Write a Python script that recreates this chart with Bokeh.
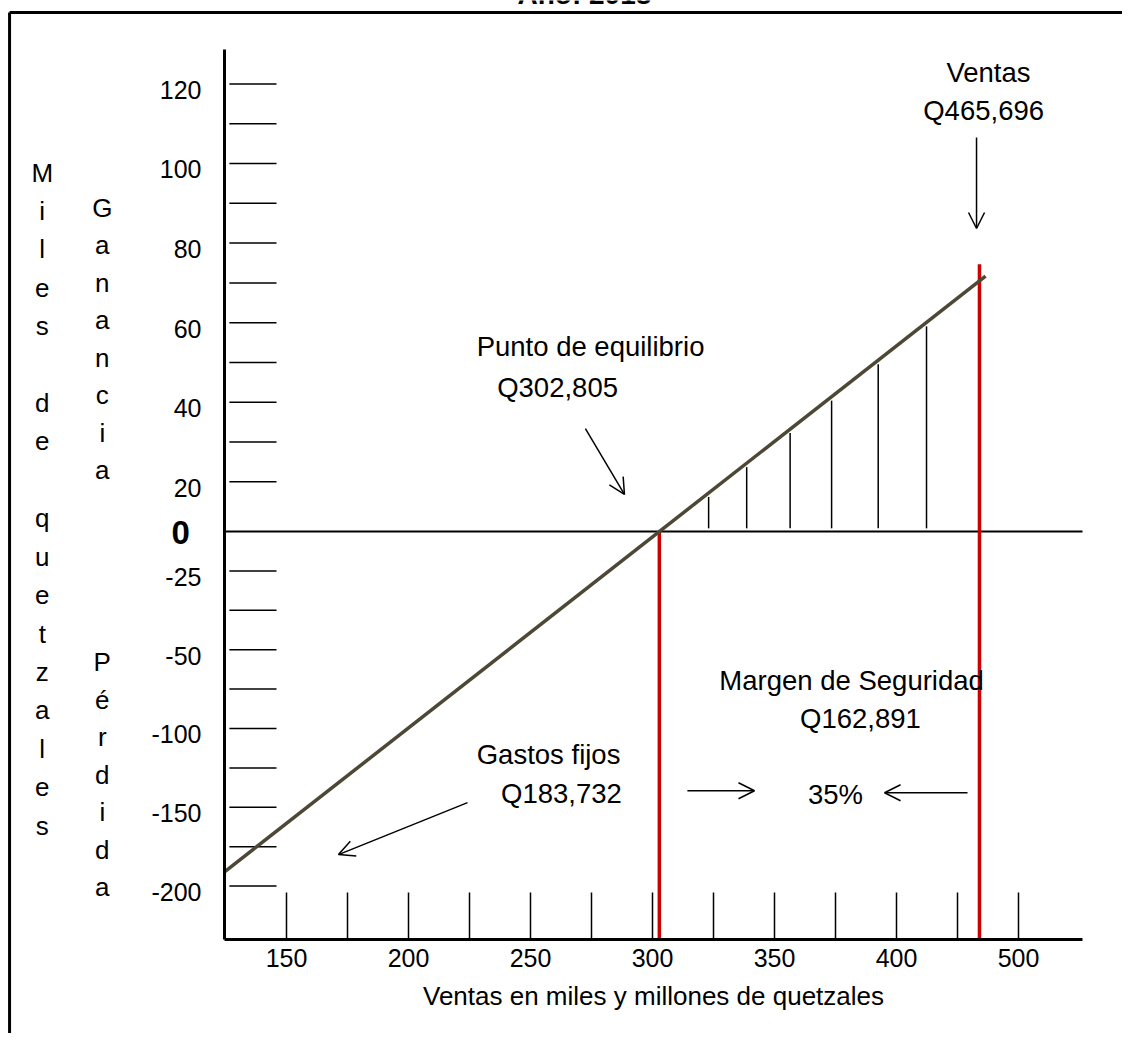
import numpy as np
from bokeh.plotting import figure
from bokeh.models import FixedTicker, Label, Arrow, OpenHead, Range1d
from bokeh.core.properties import value
from bokeh.embed import file_html
from bokeh.resources import INLINE

FONT = "'Liberation Sans', Arial, sans-serif"

# ---------------- data (drawn scale of the diagram) ----------------
x_tick_values = [150, 175, 200, 225, 250, 275, 300, 325, 350, 375, 400, 425, 450]
x_tick_labels = ["150", "", "200", "", "250", "", "300", "", "350", "", "400", "", "500"]

y_up_labels = ["20", "", "40", "", "60", "", "80", "", "100", "", "120"]
y_down_labels = ["-25", "", "-50", "", "-100", "", "-150", "", "-200"]

break_even = 302.805          # Punto de equilibrio
sales_mark = 434.0            # position of the Ventas line on the drawn axis
red_line_x = [break_even, sales_mark]
red_line_top = [0.0, 6.78]

profit_line_x = [124.6, 436.5]
profit_line_y = [-8.64, 6.48]

hatch_x = [323.0, 338.6, 356.4, 373.4, 392.5, 412.3]

# ---------------- layout constants ----------------
AX0, AX1 = 124.59, 476.23      # extent of the drawn x axis
AY0, AY1 = -10.355, 12.234     # extent of the drawn y axis
VX0, VX1 = 32.787, 492.62      # whole canvas in data units
VY0, VY1 = -12.741, 13.477
up_slots = [0.25 + 1.01 * k for k in range(1, len(y_up_labels) + 1)]
down_slots = [-1.0 * k for k in range(1, len(y_down_labels) + 1)]
label_drop = 0.15

p = figure(width=1122, height=1033, x_range=Range1d(VX0, VX1), y_range=Range1d(VY0, VY1),
           toolbar_location=None, output_backend="svg",
           min_border_left=0, min_border_right=0, min_border_top=0, min_border_bottom=0)
try:
    p.title = None
except Exception:
    p.title.visible = False
p.outline_line_color = None
p.xgrid.grid_line_color = None
p.ygrid.grid_line_color = None
p.background_fill_color = "white"
p.border_fill_color = "white"

# x axis
xa = p.xaxis[0]
xa.fixed_location = AY0
xa.bounds = (AX0, AX1)
xa.ticker = FixedTicker(ticks=x_tick_values)
xa.major_label_overrides = {float(v): t for v, t in zip(x_tick_values, x_tick_labels)}
xa.major_tick_in = 47
xa.major_tick_out = 0
xa.major_tick_line_width = 1.5
xa.minor_tick_line_color = None
xa.axis_line_width = 3
xa.major_label_text_font = FONT
xa.major_label_text_font_size = "25px"
xa.major_label_text_color = "black"
xa.major_label_standoff = 10
xa.axis_label = "Ventas en miles y millones de quetzales"
xa.axis_label_text_font = FONT
xa.axis_label_text_font_size = "26px"
xa.axis_label_text_font_style = "normal"
xa.axis_label_text_color = "black"
xa.axis_label_standoff = 10

# y axis (labels only; tick bars drawn as segments)
ya = p.yaxis[0]
ya.fixed_location = AX0
ya.bounds = (AY0, AY1)
lab_pos = [s - label_drop for s, t in zip(up_slots, y_up_labels) if t] + \
          [s - label_drop for s, t in zip(down_slots, y_down_labels) if t]
lab_txt = [t for t in y_up_labels if t] + [t for t in y_down_labels if t]
ya.ticker = FixedTicker(ticks=lab_pos)
ya.major_label_overrides = {float(v): t for v, t in zip(lab_pos, lab_txt)}
ya.major_tick_in = 0
ya.major_tick_out = 0
ya.minor_tick_line_color = None
ya.axis_line_width = 3
ya.major_label_text_font = FONT
ya.major_label_text_font_size = "25px"
ya.major_label_text_color = "black"
ya.major_label_standoff = 23

# horizontal tick bars on the y axis
bars = up_slots + down_slots
p.segment(x0=[126.6] * len(bars), y0=bars, x1=[145.9] * len(bars), y1=bars,
          line_color="black", line_width=1.5)

# zero line
p.segment(x0=[AX0], y0=[0], x1=[AX1], y1=[0], line_color="black", line_width=2)

# hatch lines under the profit line
hatch_top = np.interp(hatch_x, profit_line_x, profit_line_y)
p.segment(x0=hatch_x, y0=[0.08] * len(hatch_x), x1=hatch_x, y1=list(hatch_top - 0.1),
          line_color="black", line_width=1.5)

# red lines
p.segment(x0=red_line_x, y0=[AY0] * 2, x1=red_line_x, y1=red_line_top,
          line_color="#CC0000", line_width=3.5)

# profit line
p.line(profit_line_x, profit_line_y, line_color="#4D4735", line_width=3.5)

# outer border (left / top)
p.segment(x0=[36.5, 36.5], y0=[13.17, 13.17], x1=[700, 36.5], y1=[13.17, -40],
          line_color="black", line_width=3)

def lab(x, y, text, size="27.5px", align="center", baseline="middle", style="normal"):
    p.add_layout(Label(x=x, y=y, text=text, text_align=align, text_baseline=baseline,
                       text_font=FONT, text_font_size=size, text_font_style=style,
                       text_color="black"))

# title (cut at the top edge, as in the reference)
lab(272.1, 13.62, "Año: 2018", size="28px", baseline="alphabetic", style="bold")

# bold zero
lab(106.6, -0.03, "0", size="33px", style="bold")

# vertical letter columns
def column(word, x, s0, step):
    xs, ys, ts = [], [], []
    for k, ch in enumerate(word):
        if ch != " ":
            xs.append(x); ys.append(s0 - k * step); ts.append(ch)
    p.text(x=xs, y=ys, text=ts, text_align="center", text_baseline="alphabetic",
           text_font=value(FONT), text_font_size="26px", text_color="black")

column("Miles de quetzales", 49.9, 9.11, 0.975)
column("Ganancia", 74.5, 8.22, 0.952)
column("Pérdida", 74.5, -3.32, 0.952)

# annotations
lab(437.7, 11.65, "Ventas")
lab(435.7, 10.69, "Q465,696")
lab(274.6, 4.70, "Punto de equilibrio")
lab(261.1, 3.65, "Q302,805")
lab(381.6, -3.78, "Margen de Seguridad")
lab(385.2, -4.75, "Q162,891")
lab(257.4, -5.67, "Gastos fijos")
lab(262.7, -6.66, "Q183,732")
lab(375.0, -6.68, "35%")

def arrow(xs, ys, xe, ye):
    p.add_layout(Arrow(end=OpenHead(size=16, line_width=1.5, line_color="black"),
                       x_start=xs, y_start=ys, x_end=xe, y_end=ye,
                       line_color="black", line_width=1.5))

arrow(432.8, 10.0, 432.8, 7.69)
arrow(272.5, 2.61, 288.5, 0.94)
arrow(314.3, -6.58, 341.8, -6.58)
arrow(429.1, -6.63, 395.1, -6.63)
arrow(224.2, -6.88, 171.3, -8.2)

open("out.html", "w").write(file_html(p, INLINE))
